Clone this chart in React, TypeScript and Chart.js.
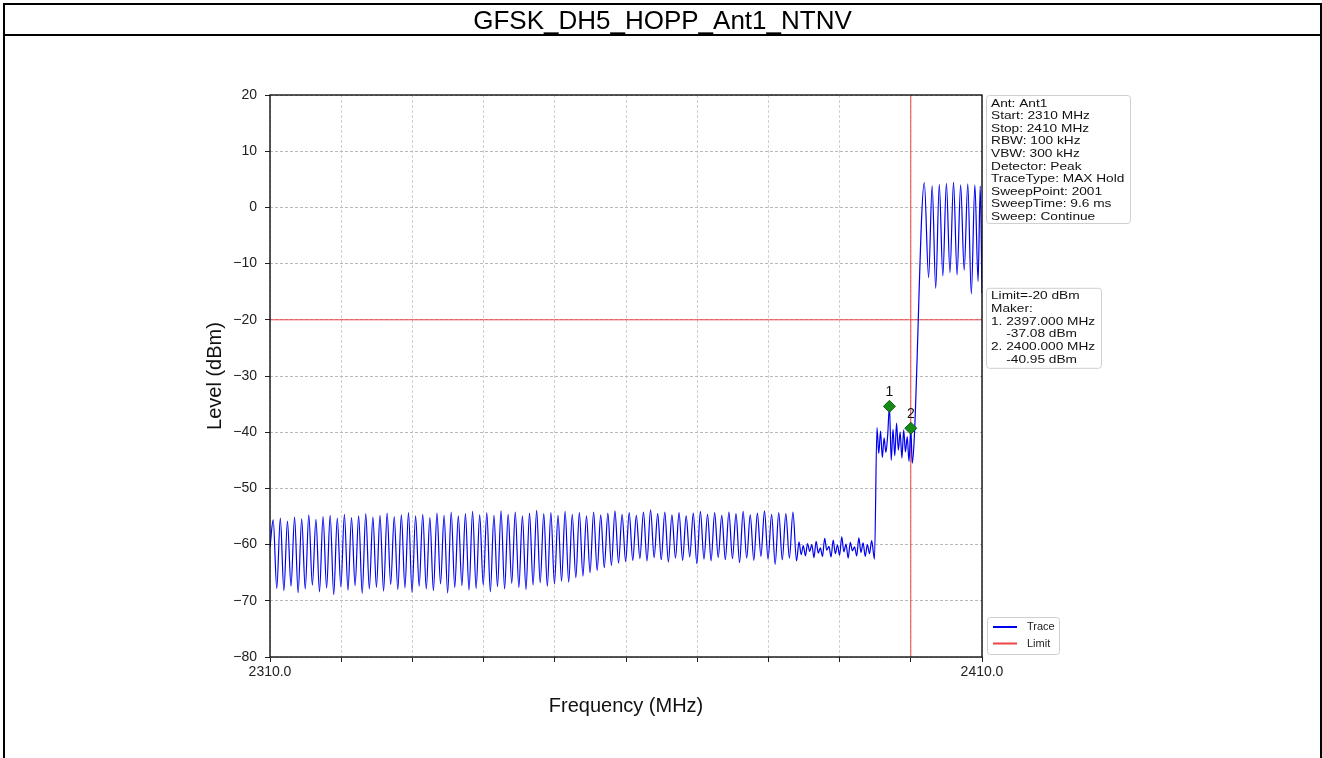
import React, { useEffect, useRef } from 'react';
import { Chart, registerables } from 'chart.js';

Chart.register(...registerables);

// ---------- data ----------
const TITLE = 'GFSK_DH5_HOPP_Ant1_NTNV';
const X_MIN = 2310;
const X_MAX = 2410;
const X_STEP = 10;
const Y_MIN = -80;
const Y_MAX = 20;
const Y_STEP = 10;
const X_TICK_LABELS: Record<number, string> = { 2310: '2310.0', 2410: '2410.0' };
const LIMIT_LEVEL = -20;
const LIMIT_FREQ = 2400;

// trace: start point, then the hopping comb (one peak + one trough per 1 MHz channel)
const traceStartFreq = 2310.0;
const traceStartLevel = -60.5;
const hopStart = 2310.45;
const hopStep = 1.0;
const hopPeaks = [
  -55.6, -55.3, -55.8, -55.1, -55.4, -54.7, -55.5, -55.0, -54.8, -55.3,
  -54.6, -55.2, -54.9, -54.5, -55.1, -54.8, -54.4, -55.0, -54.7, -54.3,
  -54.9, -54.6, -55.2, -54.4, -54.8, -54.2, -54.9, -54.5, -54.1, -54.7,
  -54.3, -54.8, -54.0, -54.6, -54.2, -54.9, -54.4, -53.9, -54.5, -54.3,
  -54.8, -54.1, -54.6, -54.3, -54.9, -54.2, -54.7, -54.4, -54.0, -54.6,
  -54.3, -54.8, -54.2, -53.8, -54.5, -54.2, -54.7, -54.3, -54.9, -54.4,
  -54.1, -54.6, -54.3, -54.8, -54.2, -54.5, -54.1, -54.7, -54.4, -54.0,
  -54.6, -54.3, -54.5, -54.2,
];
const hopTroughs = [
  -67.8, -68.2, -67.4, -68.6, -67.9, -67.2, -68.4, -67.7, -68.9, -67.5,
  -68.1, -67.3, -68.7, -67.9, -67.6, -68.3, -67.1, -68.0, -67.7, -68.5,
  -67.4, -67.9, -68.2, -67.0, -68.6, -67.6, -67.3, -68.1, -67.8, -67.2,
  -68.4, -67.5, -67.9, -66.9, -67.6, -68.0, -67.2, -66.8, -67.4, -67.0,
  -66.5, -66.7, -65.9, -65.6, -65.0, -64.6, -64.1, -63.7, -63.3, -63.0,
  -62.8, -62.5, -62.9, -62.3, -62.7, -63.1, -62.4, -62.8, -62.2, -63.4,
  -62.6, -62.9, -62.3, -62.7, -62.5, -63.2, -62.4, -62.8, -62.1, -62.6,
  -63.5, -62.7, -62.4, -62.9,
];
const noiseFreqs = [
  2384.3, 2384.6, 2384.9, 2385.2, 2385.5, 2385.8, 2386.1, 2386.4, 2386.7, 2387.0,
  2387.3, 2387.6, 2387.9, 2388.2, 2388.5, 2388.8, 2389.1, 2389.4, 2389.7, 2390.0,
  2390.3, 2390.6, 2390.9, 2391.2, 2391.5, 2391.8, 2392.1, 2392.4, 2392.7, 2393.0,
  2393.3, 2393.6, 2393.9, 2394.2, 2394.5, 2394.9,
];
const noiseLevels = [
  -59.5, -61.8, -60.2, -62.0, -59.8, -61.2, -60.0, -62.3, -59.4, -61.5,
  -60.6, -62.1, -58.9, -61.0, -60.3, -62.2, -59.2, -61.6, -60.1, -61.9,
  -58.6, -61.3, -59.9, -62.4, -59.6, -61.1, -60.4, -62.0, -58.8, -61.4,
  -59.7, -62.1, -60.0, -61.6, -59.3, -62.6,
];
const edgeFreqs = [
  2395.25, 2395.5, 2395.75, 2396.0, 2396.25, 2396.5, 2396.75, 2397.0, 2397.25, 2397.5,
  2397.75, 2398.0, 2398.25, 2398.5, 2398.75, 2399.0, 2399.25, 2399.5, 2399.75, 2400.0,
  2400.2, 2400.45,
];
const edgeLevels = [
  -39.2, -43.8, -39.8, -44.5, -41.0, -43.6, -40.6, -35.4, -45.0, -39.5,
  -44.2, -38.4, -43.2, -40.0, -44.6, -39.6, -43.5, -40.8, -45.2, -39.3,
  -45.5, -42.0,
];
const inBandFreqs = [
  2401.9, 2402.5, 2403.0, 2403.5, 2404.0, 2404.5, 2405.0, 2405.5, 2406.0, 2406.5,
  2407.0, 2407.5, 2408.0, 2408.5, 2409.0, 2409.45, 2409.75, 2410.0,
];
const inBandLevels = [
  4.4, -12.5, 3.9, -14.4, 4.1, -12.2, 4.3, -11.6, 4.5, -12.0,
  4.0, -11.2, 4.2, -15.4, 4.0, -13.2, 3.8, -15.3,
];

const markerFreqs = [2397, 2400];
const markerLevels = [-35.4, -39.3];
const markerNames = ['1', '2'];

const infoLines = [
  'Ant: Ant1',
  'Start: 2310 MHz',
  'Stop: 2410 MHz',
  'RBW: 100 kHz',
  'VBW: 300 kHz',
  'Detector: Peak',
  'TraceType: MAX Hold',
  'SweepPoint: 2001',
  'SweepTime: 9.6 ms',
  'Sweep: Continue',
];
const markerInfoLines = [
  'Limit=-20 dBm',
  'Maker:',
  '1. 2397.000 MHz',
  '    -37.08 dBm',
  '2. 2400.000 MHz',
  '    -40.95 dBm',
];
const legendNames = ['Trace', 'Limit'];

const TRACE_COLOR = '#0000f0';
const LIMIT_COLOR = '#ec4545';
const MARKER_COLOR = '#168a16';
const FONT = 'Arial, "Liberation Sans", sans-serif';

function buildTrace() {
  const pts: { x: number; y: number }[] = [{ x: traceStartFreq, y: traceStartLevel }];
  for (let k = 0; k < hopPeaks.length; k++) {
    pts.push({ x: hopStart + k * hopStep, y: hopPeaks[k] });
    pts.push({ x: hopStart + k * hopStep + hopStep / 2, y: hopTroughs[k] });
  }
  noiseFreqs.forEach((f, i) => pts.push({ x: f, y: noiseLevels[i] }));
  edgeFreqs.forEach((f, i) => pts.push({ x: f, y: edgeLevels[i] }));
  inBandFreqs.forEach((f, i) => pts.push({ x: f, y: inBandLevels[i] }));
  return pts;
}

function drawText(
  ctx: CanvasRenderingContext2D,
  s: string,
  x: number,
  y: number,
  size: number,
  align: CanvasTextAlign = 'left',
  sx = 1,
  color = '#111'
) {
  ctx.save();
  ctx.translate(x, y);
  ctx.scale(sx, 1);
  ctx.font = `${size}px ${FONT}`;
  ctx.fillStyle = color;
  ctx.textAlign = align;
  ctx.textBaseline = 'middle';
  ctx.fillText(s, 0, 0);
  ctx.restore();
}

function roundBox(ctx: CanvasRenderingContext2D, x: number, y: number, w: number, h: number) {
  ctx.save();
  ctx.beginPath();
  ctx.roundRect(x + 0.5, y + 0.5, w, h, 3);
  ctx.fillStyle = 'rgba(255,255,255,0.9)';
  ctx.fill();
  ctx.strokeStyle = '#cfcfcf';
  ctx.lineWidth = 1;
  ctx.stroke();
  ctx.restore();
}

const overlayPlugin = {
  id: 'overlay',
  afterDraw(chart: any) {
    const ctx: CanvasRenderingContext2D = chart.ctx;
    const ca = chart.chartArea;
    const xs = chart.scales.x;
    const ys = chart.scales.y;

    // plot frame
    ctx.save();
    ctx.strokeStyle = '#111';
    ctx.lineWidth = 1.4;
    ctx.strokeRect(ca.left, ca.top, ca.right - ca.left, ca.bottom - ca.top);
    ctx.restore();

    // axis titles
    ctx.save();
    ctx.translate(ca.left - 55, (ca.top + ca.bottom) / 2);
    ctx.rotate(-Math.PI / 2);
    drawText(ctx, 'Level (dBm)', 0, 0, 20, 'center');
    ctx.restore();
    drawText(ctx, 'Frequency (MHz)', (ca.left + ca.right) / 2, ca.bottom + 49, 20, 'center');

    // marker labels
    markerFreqs.forEach((f, i) => {
      const px = xs.getPixelForValue(f);
      const py = ys.getPixelForValue(markerLevels[i]);
      drawText(ctx, markerNames[i], px, py - 14, 14, 'center');
    });

    // info box
    const bx = ca.right + 4;
    roundBox(ctx, bx, ca.top, 144, 128);
    infoLines.forEach((s, i) => drawText(ctx, s, bx + 5, ca.top + 8.5 + i * 12.55, 11.8, 'left', 1.16));

    // limit/marker box
    roundBox(ctx, bx, ys.getPixelForValue(LIMIT_LEVEL) - 32, 115, 80);
    const by = ys.getPixelForValue(LIMIT_LEVEL) - 24;
    markerInfoLines.forEach((s, i) => drawText(ctx, s, bx + 5, by + i * 12.8, 11.8, 'left', 1.16));

    // legend
    const lx = ca.right + 5;
    const ly = ca.bottom - 40;
    roundBox(ctx, lx, ly, 72, 37);
    const colors = [TRACE_COLOR, LIMIT_COLOR];
    legendNames.forEach((s, i) => {
      const yy = ly + 10 + i * 16.5;
      ctx.save();
      ctx.strokeStyle = colors[i];
      ctx.lineWidth = 2;
      ctx.beginPath();
      ctx.moveTo(lx + 6, yy);
      ctx.lineTo(lx + 30, yy);
      ctx.stroke();
      ctx.restore();
      drawText(ctx, s, lx + 40, yy, 11, 'left', 1, '#222');
    });
  },
};

export default function App() {
  const ref = useRef<HTMLCanvasElement>(null);

  useEffect(() => {
    document.body.style.margin = '0';
    const canvas = ref.current!;
    const trace = buildTrace();
    const chart = new Chart(canvas, {
      type: 'line',
      data: {
        datasets: [
          {
            label: 'Marker',
            data: markerFreqs.map((f, i) => ({ x: f, y: markerLevels[i] })),
            showLine: false,
            pointStyle: 'rectRot',
            pointRadius: 6,
            pointBackgroundColor: MARKER_COLOR,
            pointBorderColor: '#0d5c0d',
            pointBorderWidth: 1,
            order: 0,
          },
          {
            label: 'Trace',
            data: trace,
            borderColor: TRACE_COLOR,
            borderWidth: 1.2,
            pointRadius: 0,
            cubicInterpolationMode: 'monotone',
            order: 1,
          },
          {
            label: 'Limit',
            data: [
              { x: X_MIN, y: LIMIT_LEVEL },
              { x: X_MAX, y: LIMIT_LEVEL },
            ],
            borderColor: LIMIT_COLOR,
            borderWidth: 1,
            pointRadius: 0,
            order: 2,
          },
          {
            label: 'LimitFreq',
            data: [
              { x: LIMIT_FREQ, y: Y_MIN },
              { x: LIMIT_FREQ, y: Y_MAX },
            ],
            borderColor: LIMIT_COLOR,
            borderWidth: 1,
            pointRadius: 0,
            order: 2,
          },
        ],
      },
      options: {
        responsive: false,
        animation: false,
        devicePixelRatio: 1,
        parsing: false,
        normalized: true,
        layout: { padding: { left: 0, top: 95, right: 340, bottom: 61 } },
        plugins: { legend: { display: false }, title: { display: false }, tooltip: { enabled: false } },
        scales: {
          x: {
            type: 'linear',
            min: X_MIN,
            max: X_MAX,
            afterFit: (s: any) => {
              s.height = 40;
            },
            afterBuildTicks: (s: any) => {
              const t = [];
              for (let v = X_MIN; v <= X_MAX; v += X_STEP) t.push({ value: v });
              s.ticks = t;
            },
            ticks: {
              autoSkip: false,
              maxRotation: 0,
              padding: 2,
              color: '#222',
              font: { family: FONT, size: 14 },
              callback: (v: any) => X_TICK_LABELS[Number(v)] ?? '',
            },
            grid: { color: '#d0d0d0', lineWidth: 1, tickLength: 5, tickColor: '#222', drawTicks: true },
            border: { display: false, dash: [3, 2] },
          },
          y: {
            type: 'linear',
            min: Y_MIN,
            max: Y_MAX,
            afterFit: (s: any) => {
              s.width = 270;
            },
            ticks: {
              stepSize: Y_STEP,
              padding: 8,
              color: '#222',
              font: { family: FONT, size: 14 },
              callback: (v: any) => String(v).replace('-', '\u2212'),
            },
            grid: { color: '#b8b8b8', lineWidth: 1, tickLength: 5, tickColor: '#222', drawTicks: true },
            border: { display: false, dash: [3, 2] },
          },
        },
      },
      plugins: [overlayPlugin],
    } as any);
    return () => chart.destroy();
  }, []);

  const line = (style: React.CSSProperties) => (
    <div style={{ position: 'absolute', background: '#000', ...style }} />
  );

  return (
    <div style={{ position: 'absolute', left: 0, top: 0, width: 1322, height: 758, background: '#fff', overflow: 'hidden' }}>
      <canvas ref={ref} width={1322} height={758} style={{ position: 'absolute', left: 0, top: 0, width: 1322, height: 758 }} />
      {line({ left: 3, top: 3, width: 1319, height: 2 })}
      {line({ left: 3, top: 34, width: 1319, height: 2 })}
      {line({ left: 3, top: 3, width: 2, height: 755 })}
      {line({ left: 1320, top: 3, width: 2, height: 755 })}
      <div
        style={{
          position: 'absolute',
          left: 5,
          top: 5,
          width: 1315,
          height: 29,
          display: 'flex',
          alignItems: 'center',
          justifyContent: 'center',
          fontFamily: FONT,
          fontSize: 26,
          color: '#000',
          lineHeight: 1,
        }}
      >
        {TITLE}
      </div>
    </div>
  );
}
